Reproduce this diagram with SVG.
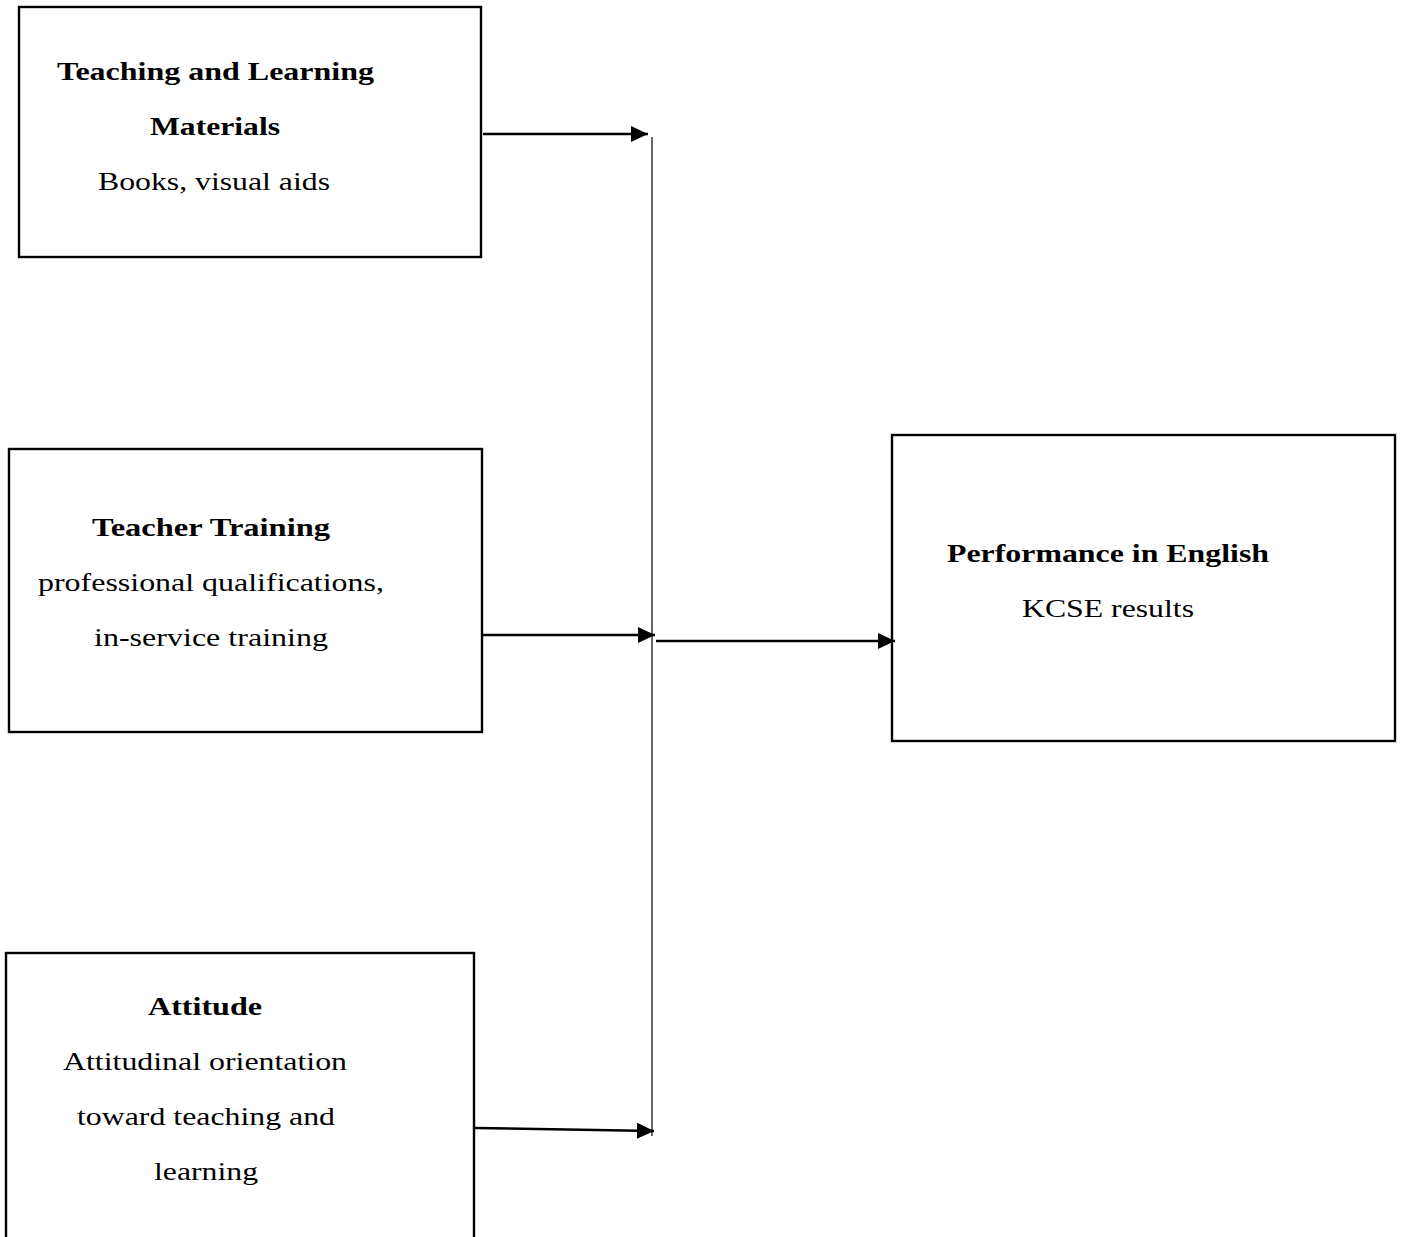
<svg xmlns="http://www.w3.org/2000/svg" width="1406" height="1237" viewBox="0 0 1406 1237">
<style>
.box{fill:#fff;stroke:#000;stroke-width:2.4}
text{font-family:'Liberation Serif','Times New Roman',Tinos,serif;font-size:26px;fill:#000}
.b{font-weight:bold}
.conn{stroke:#000;stroke-width:2.5;fill:none}
.vline{stroke:#000;stroke-width:1.2;fill:none}
</style>
<defs>
<marker id="ah" markerUnits="userSpaceOnUse" markerWidth="18" markerHeight="16" refX="17" refY="8" orient="auto">
<path d="M0,0 L17,8 L0,16 Z" fill="#000"/>
</marker>
</defs>
<rect width="1406" height="1237" fill="#fff"/>
<g id="node-materials">
<rect class="box" x="19" y="7" width="462" height="250"/>
<text class="b" x="57" y="80" textLength="317" lengthAdjust="spacingAndGlyphs">Teaching and Learning</text>
<text class="b" x="150" y="135" textLength="130" lengthAdjust="spacingAndGlyphs">Materials</text>
<text x="98" y="190" textLength="232" lengthAdjust="spacingAndGlyphs">Books, visual aids</text>
</g>
<g id="node-training">
<rect class="box" x="9" y="449" width="473" height="283"/>
<text class="b" x="92" y="536" textLength="238" lengthAdjust="spacingAndGlyphs">Teacher Training</text>
<text x="38" y="591" textLength="346" lengthAdjust="spacingAndGlyphs">professional qualifications,</text>
<text x="94" y="646" textLength="234" lengthAdjust="spacingAndGlyphs">in-service training</text>
</g>
<g id="node-attitude">
<rect class="box" x="6" y="953" width="468" height="300"/>
<text class="b" x="148" y="1015" textLength="114" lengthAdjust="spacingAndGlyphs">Attitude</text>
<text x="63" y="1070" textLength="284" lengthAdjust="spacingAndGlyphs">Attitudinal orientation</text>
<text x="77" y="1125" textLength="258" lengthAdjust="spacingAndGlyphs">toward teaching and</text>
<text x="154" y="1180" textLength="104" lengthAdjust="spacingAndGlyphs">learning</text>
</g>
<g id="node-performance">
<rect class="box" x="892" y="435" width="503" height="306"/>
<text class="b" x="947" y="562" textLength="322" lengthAdjust="spacingAndGlyphs">Performance in English</text>
<text x="1022" y="617" textLength="172" lengthAdjust="spacingAndGlyphs">KCSE results</text>
</g>
<g id="connectors">
<line class="vline" x1="652" y1="137" x2="652" y2="1136"/>
<line class="conn" x1="483" y1="134" x2="648" y2="134" marker-end="url(#ah)"/>
<line class="conn" x1="483" y1="635" x2="655" y2="635" marker-end="url(#ah)"/>
<line class="conn" x1="474" y1="1128" x2="654" y2="1131" marker-end="url(#ah)"/>
<line class="conn" x1="656" y1="641" x2="895" y2="641" marker-end="url(#ah)"/>
</g>
</svg>
